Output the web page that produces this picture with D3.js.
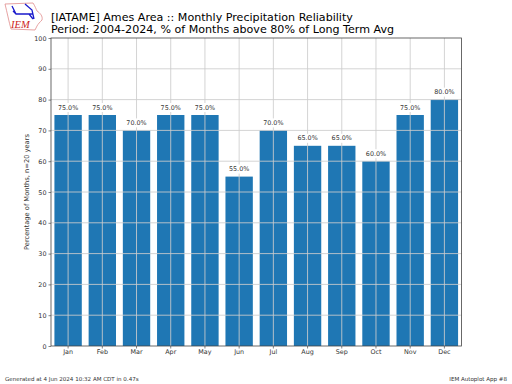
<!DOCTYPE html>
<html>
<head>
<meta charset="utf-8">
<script src="https://cdn.jsdelivr.net/npm/d3@7/dist/d3.min.js"></script>
<style>
  html, body { margin: 0; padding: 0; background: #fff; }
  svg { display: block; font-family: "DejaVu Sans", sans-serif; }
</style>
</head>
<body>
<div id="chart"></div>
<script>
const months = ['Jan', 'Feb', 'Mar', 'Apr', 'May', 'Jun', 'Jul', 'Aug', 'Sep', 'Oct', 'Nov', 'Dec']
const percents = [75, 75, 70, 75, 75, 55, 70, 65, 65, 60, 75, 80]
const yTicks = [0, 10, 20, 30, 40, 50, 60, 70, 80, 90, 100]
const titleLines = [
  '[IATAME] Ames Area :: Monthly Precipitation Reliability',
  'Period: 2004-2024, % of Months above 80% of Long Term Avg'
]

const width = 512
const height = 384
const marginTop = 38
const marginRight = 50.5
const marginBottom = 38
const marginLeft = 51

const svg = d3.select('#chart')
  .append('svg')
  .attr('width', width)
  .attr('height', height)
  .attr('viewBox', `0 0 ${width} ${height}`)

const x = d3.scaleBand()
  .domain(months)
  .range([marginLeft, width - marginRight])
  .paddingInner(0.2)
  .paddingOuter(0.1)

const y = d3.scaleLinear()
  .domain([0, 100])
  .range([height - marginBottom, marginTop])

// bars first, the grid sits on top of them
svg.append('g')
  .selectAll('rect')
  .data(percents)
  .enter()
  .append('rect')
  .attr('x', (d, i) => x(months[i]))
  .attr('y', d => y(d))
  .attr('width', x.bandwidth())
  .attr('height', d => y(0) - y(d))
  .attr('fill', '#1f77b4')

const xAxis = svg.append('g')
  .attr('transform', `translate(0,${y(0)})`)
  .call(d3.axisBottom(x).tickSize(2.5).tickPadding(1))
xAxis.select('.domain').remove()
xAxis.selectAll('line').attr('stroke', '#333').attr('stroke-width', 0.6)
xAxis.selectAll('text').attr('font-size', 6.4).attr('font-family', 'DejaVu Sans').attr('fill', '#333')

const yAxis = svg.append('g')
  .attr('transform', `translate(${marginLeft},0)`)
  .call(d3.axisLeft(y).tickValues(yTicks).tickSize(2.5).tickPadding(2))
yAxis.select('.domain').remove()
yAxis.selectAll('line').attr('stroke', '#333').attr('stroke-width', 0.6)
yAxis.selectAll('text').attr('font-size', 6.4).attr('font-family', 'DejaVu Sans').attr('fill', '#333')

const grid = svg.append('g')
  .attr('stroke', '#cdcdcd')
  .attr('stroke-opacity', 0.85)
  .attr('stroke-width', 1)
grid.selectAll('line.h')
  .data(yTicks.slice(1, -1))
  .enter()
  .append('line')
  .attr('class', 'h')
  .attr('x1', marginLeft)
  .attr('x2', width - marginRight)
  .attr('y1', d => y(d))
  .attr('y2', d => y(d))
grid.selectAll('line.v')
  .data(months)
  .enter()
  .append('line')
  .attr('class', 'v')
  .attr('x1', d => x(d) + x.bandwidth() / 2)
  .attr('x2', d => x(d) + x.bandwidth() / 2)
  .attr('y1', y(0))
  .attr('y2', y(100))

// value labels have a white box behind them
const labels = svg.append('g')
  .selectAll('g')
  .data(percents)
  .enter()
  .append('g')
  .attr('transform', (d, i) => `translate(${x(months[i]) + x.bandwidth() / 2},${y(d) - 5.5})`)
labels.append('rect')
  .attr('x', -13)
  .attr('y', -6.5)
  .attr('width', 26)
  .attr('height', 9)
  .attr('fill', '#fff')
labels.append('text')
  .attr('text-anchor', 'middle')
  .attr('font-size', 6.4)
  .attr('fill', '#333')
  .text(d => d.toFixed(1) + '%')

svg.append('rect')
  .attr('x', marginLeft)
  .attr('y', marginTop)
  .attr('width', width - marginLeft - marginRight)
  .attr('height', height - marginTop - marginBottom)
  .attr('fill', 'none')
  .attr('stroke', '#444')
  .attr('stroke-width', 0.8)

svg.append('text')
  .attr('transform', `translate(28.5,${(y(0) + y(100)) / 2}) rotate(-90)`)
  .attr('text-anchor', 'middle')
  .attr('font-size', 6.7)
  .attr('fill', '#333')
  .text('Percentage of Months, n=20 years')

svg.append('g')
  .selectAll('text')
  .data(titleLines)
  .enter()
  .append('text')
  .attr('x', 51)
  .attr('y', (d, i) => 21 + i * 12.3)
  .attr('font-size', 11.1)
  .attr('fill', '#000')
  .text(d => d)

svg.append('text')
  .attr('x', 5)
  .attr('y', 381)
  .attr('font-size', 5.55)
  .attr('fill', '#333')
  .text('Generated at 4 Jun 2024 10:32 AM CDT in 0.47s')

svg.append('text')
  .attr('x', 507)
  .attr('y', 381)
  .attr('text-anchor', 'end')
  .attr('font-size', 5.55)
  .attr('fill', '#333')
  .text('IEM Autoplot App #8')

// IEM logo, rough Iowa outline with the blue network on it
const logo = svg.append('g')
logo.append('path')
  .attr('d', 'M5 4 L33 3 C35 6 36 9 37 11 C40 13 43 16 42 20 C40 22 38 24 37 26 L35 30 L11 29 C9 22 7 12 5 4 Z')
  .attr('fill', '#fff')
  .attr('stroke', '#e08a8a')
  .attr('stroke-width', 0.8)
logo.append('path')
  .attr('d', 'M12 6 L16 14 L33 14 M25 4 L32 10 L34 19 M16 14 L13 11 M29 14 L33 19')
  .attr('fill', 'none')
  .attr('stroke', '#1a1acc')
  .attr('stroke-width', 1.3)
logo.append('text')
  .attr('x', 11)
  .attr('y', 28)
  .attr('font-family', 'Liberation Serif')
  .attr('font-style', 'italic')
  .attr('font-size', 10.5)
  .attr('fill', '#cc2222')
  .text('IEM')
</script>
</body>
</html>
